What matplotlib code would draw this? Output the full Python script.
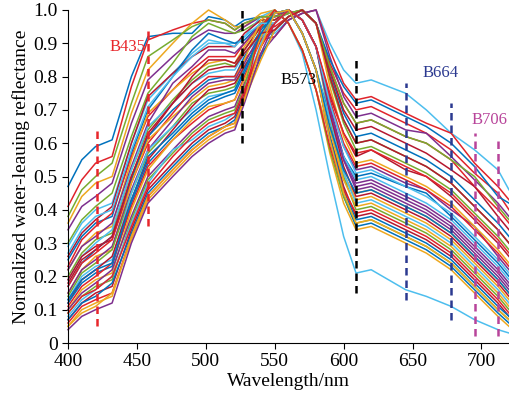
import matplotlib
matplotlib.use("Agg")
import matplotlib.pyplot as plt
from matplotlib.ticker import FuncFormatter

plt.rcParams['font.family'] = ['Liberation Serif', 'DejaVu Serif']

wl = [400, 410, 420, 432, 446, 458, 476, 490, 502, 514, 521, 528,
      540, 550, 560, 570, 580, 590, 600,
      609, 620, 645, 660, 678, 695, 712, 720]

# normalized water-leaving reflectance spectra
s01 = [.47, .55, .59, .61, .80, .92, .93, .93, .98, .97, .95, .97, .98, .98, .99, 1.0, .96, .81, .69, .62, .63, .58, .55, .50, .43, .36, .32]
s02 = [.41, .49, .54, .56, .77, .91, .94, .96, .97, .96, .94, .96, .98, .98, .99, 1.0, .96, .84, .75, .70, .71, .66, .63, .58, .51, .45, .40]
s03 = [.36, .44, .48, .50, .69, .82, .90, .96, 1.0, .97, .95, .95, .99, 1.0, .96, .88, .76, .62, .49, .45, .46, .41, .38, .33, .26, .19, .15]
s04 = [.34, .41, .44, .48, .66, .79, .86, .91, .94, .93, .93, .95, .98, .98, 1.0, .97, .89, .72, .59, .52, .53, .48, .46, .40, .35, .26, .22]
s05 = [.30, .37, .41, .45, .62, .75, .84, .92, .96, .94, .93, .94, .97, .97, .99, 1.0, .96, .80, .67, .60, .61, .56, .53, .48, .41, .34, .30]
s06 = [.29, .36, .40, .42, .60, .73, .81, .87, .91, .90, .90, .92, .98, 1.0, .96, .87, .70, .50, .32, .21, .22, .16, .14, .11, .07, .04, .03]
s07 = [.26, .33, .37, .41, .60, .74, .81, .86, .89, .89, .89, .93, .97, .97, 1.0, .97, .89, .74, .63, .56, .58, .52, .50, .44, .37, .30, .26]
s08 = [.25, .32, .36, .38, .57, .70, .80, .88, .93, .91, .90, .91, .96, .99, 1.0, .93, .82, .61, .44, .35, .36, .31, .28, .23, .16, .09, .06]
s09 = [.23, .31, .35, .39, .56, .68, .76, .82, .86, .86, .86, .90, .95, .95, .98, 1.0, .96, .83, .72, .66, .67, .62, .60, .55, .47, .40, .36]
s10 = [.22, .29, .33, .35, .55, .69, .76, .81, .84, .85, .84, .89, .96, .99, 1.0, .93, .82, .64, .51, .43, .44, .39, .36, .31, .24, .17, .13]
s11 = [.22, .29, .32, .36, .53, .66, .78, .83, .88, .88, .87, .90, .96, .96, 1.0, .97, .89, .71, .56, .48, .49, .44, .41, .36, .29, .22, .18]
s12 = [.20, .27, .31, .33, .52, .64, .73, .79, .83, .84, .83, .88, .95, .96, 1.0, .97, .89, .67, .50, .40, .41, .36, .33, .28, .21, .14, .10]
s13 = [.19, .26, .30, .34, .52, .65, .72, .78, .81, .82, .82, .87, .92, .93, .97, .99, 1.0, .90, .82, .78, .79, .75, .70, .63, .58, .52, .46]
s14 = [.19, .26, .29, .31, .50, .62, .72, .80, .85, .85, .84, .88, .95, .99, 1.0, .93, .82, .62, .47, .38, .39, .34, .31, .26, .19, .12, .08]
s15 = [.17, .24, .28, .32, .49, .62, .70, .75, .79, .80, .80, .86, .94, .99, 1.0, .93, .82, .68, .56, .50, .51, .47, .45, .38, .31, .24, .20]
s16 = [.17, .24, .27, .31, .48, .60, .69, .76, .80, .80, .80, .85, .91, .92, .97, .99, 1.0, .88, .78, .73, .74, .69, .66, .63, .54, .47, .43]
s17 = [.15, .22, .26, .28, .48, .61, .68, .73, .77, .78, .79, .85, .97, 1.0, .96, .88, .76, .57, .42, .34, .35, .30, .27, .22, .15, .08, .05]
s18 = [.15, .22, .25, .29, .46, .58, .67, .74, .78, .79, .79, .84, .93, .96, 1.0, .97, .89, .70, .55, .46, .47, .42, .39, .34, .27, .20, .16]
s19 = [.14, .21, .24, .28, .45, .57, .65, .72, .75, .76, .77, .83, .91, .94, .98, 1.0, .96, .79, .66, .58, .59, .54, .51, .46, .39, .32, .28]
s20 = [.13, .20, .23, .25, .45, .58, .65, .70, .74, .75, .76, .82, .92, .96, 1.0, .97, .89, .68, .51, .42, .43, .38, .35, .30, .23, .16, .12]
s21 = [.12, .19, .22, .26, .43, .55, .64, .71, .76, .77, .78, .83, .91, .94, .98, 1.0, .96, .82, .70, .64, .65, .60, .57, .52, .47, .38, .34]
s22 = [.12, .18, .21, .23, .42, .54, .62, .68, .72, .74, .75, .81, .92, .99, 1.0, .93, .82, .62, .46, .37, .38, .33, .30, .25, .18, .11, .08]
s23 = [.11, .17, .20, .24, .41, .53, .61, .66, .70, .72, .73, .80, .91, .96, 1.0, .97, .89, .73, .60, .53, .54, .49, .46, .41, .34, .27, .23]
s24 = [.10, .16, .19, .21, .40, .52, .61, .67, .71, .72, .73, .79, .92, .99, 1.0, .93, .82, .64, .49, .41, .42, .37, .34, .29, .22, .15, .11]
s25 = [.10, .15, .18, .22, .38, .50, .58, .64, .68, .70, .71, .78, .87, .92, .97, .99, 1.0, .86, .74, .68, .69, .64, .63, .56, .49, .42, .38]
s26 = [.09, .14, .17, .19, .37, .49, .57, .63, .67, .69, .70, .77, .95, 1.0, .96, .88, .76, .58, .44, .36, .37, .32, .29, .24, .17, .10, .07]
s27 = [.08, .13, .16, .20, .36, .48, .58, .61, .65, .67, .69, .76, .90, .99, 1.0, .93, .82, .67, .56, .49, .50, .45, .42, .37, .30, .23, .19]
s28 = [.07, .12, .15, .17, .34, .46, .54, .60, .64, .66, .68, .75, .89, .96, 1.0, .97, .89, .69, .53, .44, .45, .40, .37, .32, .25, .18, .14]
s29 = [.07, .12, .14, .18, .33, .45, .53, .59, .63, .65, .67, .74, .86, .94, .98, 1.0, .96, .85, .77, .72, .73, .68, .65, .60, .53, .44, .42]
s30 = [.06, .11, .13, .15, .32, .44, .52, .58, .62, .65, .66, .74, .95, 1.0, .96, .88, .76, .59, .46, .39, .40, .35, .32, .27, .20, .13, .09]
s31 = [.05, .09, .11, .15, .31, .43, .51, .57, .61, .64, .65, .73, .85, .94, .98, 1.0, .96, .77, .62, .54, .55, .50, .47, .42, .35, .28, .24]
s32 = [.04, .08, .10, .12, .30, .42, .50, .56, .60, .63, .64, .72, .87, .96, 1.0, .97, .89, .70, .55, .47, .48, .43, .40, .35, .28, .21, .17]
s33 = [.38, .46, .50, .54, .72, .86, .91, .95, .97, .96, .94, .96, .98, .98, .99, 1.0, .96, .83, .72, .66, .67, .62, .60, .55, .50, .41, .37]
s34 = [.27, .34, .38, .40, .58, .71, .80, .86, .90, .90, .89, .92, .96, .96, 1.0, .97, .89, .72, .59, .51, .52, .47, .44, .39, .32, .25, .21]
s35 = [.18, .25, .28, .32, .50, .63, .72, .78, .82, .83, .83, .87, .93, .94, .98, 1.0, .96, .80, .67, .60, .61, .56, .53, .48, .41, .34, .30]
s36 = [.13, .19, .22, .24, .43, .56, .63, .69, .73, .75, .76, .82, .93, .99, 1.0, .93, .82, .65, .52, .45, .46, .41, .38, .33, .26, .19, .15]
s37 = [.09, .14, .16, .20, .35, .47, .56, .62, .66, .68, .69, .76, .89, .96, 1.0, .97, .89, .75, .63, .57, .58, .53, .50, .45, .38, .31, .27]
s38 = [.05, .10, .12, .14, .32, .44, .52, .58, .62, .65, .66, .73, .89, .99, 1.0, .93, .82, .61, .45, .36, .37, .32, .29, .24, .17, .10, .07]

spectra = [s01, s02, s03, s04, s05, s06, s07, s08, s09, s10, s11, s12, s13,
           s14, s15, s16, s17, s18, s19, s20, s21, s22, s23, s24, s25, s26,
           s27, s28, s29, s30, s31, s32, s33, s34, s35, s36, s37, s38]

# band markers: dashed lines (x, ymin, ymax) and labels
band_names = ['B435', 'B573', 'B664', 'B706']
band_x = [[421, 458], [526, 609], [645, 678], [695, 712]]
band_ymin = [[0.05, 0.35], [0.60, 0.15], [0.13, 0.07], [0.02, 0.02]]
band_ymax = [[0.65, 0.95], [1.00, 0.85], [0.78, 0.72], [0.63, 0.62]]
label_x = [443, 567, 670, 719]
label_y = [0.89, 0.79, 0.81, 0.67]

cores = ['#0072BD', '#E0242B', '#EDA820', '#7E2F8E', '#77AC30', '#4DBEEE', '#B5172F']
band_cores = ['#E8262B', '#000000', '#2B3990', '#B8449A']

fig = plt.figure(figsize=(5.09, 4.0), dpi=100)
ax = fig.add_axes([0.1336, 0.1425, 0.8664, 0.8325])

for i, s in enumerate(spectra):
    ax.plot(wl, s, color=cores[i % len(cores)], lw=1.1, clip_on=False)

for k in range(len(band_names)):
    ax.vlines(band_x[k], band_ymin[k], band_ymax[k], colors=band_cores[k],
              linestyles=(0, (3, 2)), lw=1.8, zorder=5)
    ha = 'right' if k == 3 else 'center'
    ax.text(label_x[k], label_y[k], band_names[k], color=band_cores[k],
            fontsize=12, ha=ha, va='center', zorder=6)

ax.set_xlim(400, 720)
ax.set_ylim(0, 1)
ax.set_xticks(range(400, 701, 50))
ax.set_yticks([i / 10 for i in range(11)])
ax.yaxis.set_major_formatter(FuncFormatter(lambda v, p: '0' if v == 0 else f'{v:.1f}'))
ax.tick_params(labelsize=14, direction='out', length=4)
ax.spines['top'].set_visible(False)
ax.spines['right'].set_visible(False)
ax.set_xlabel('Wavelength/nm', fontsize=14, labelpad=2)
ax.set_ylabel('Normalized water-leauing reflectance', fontsize=14, labelpad=2)

fig.savefig('out.png', dpi=100)
